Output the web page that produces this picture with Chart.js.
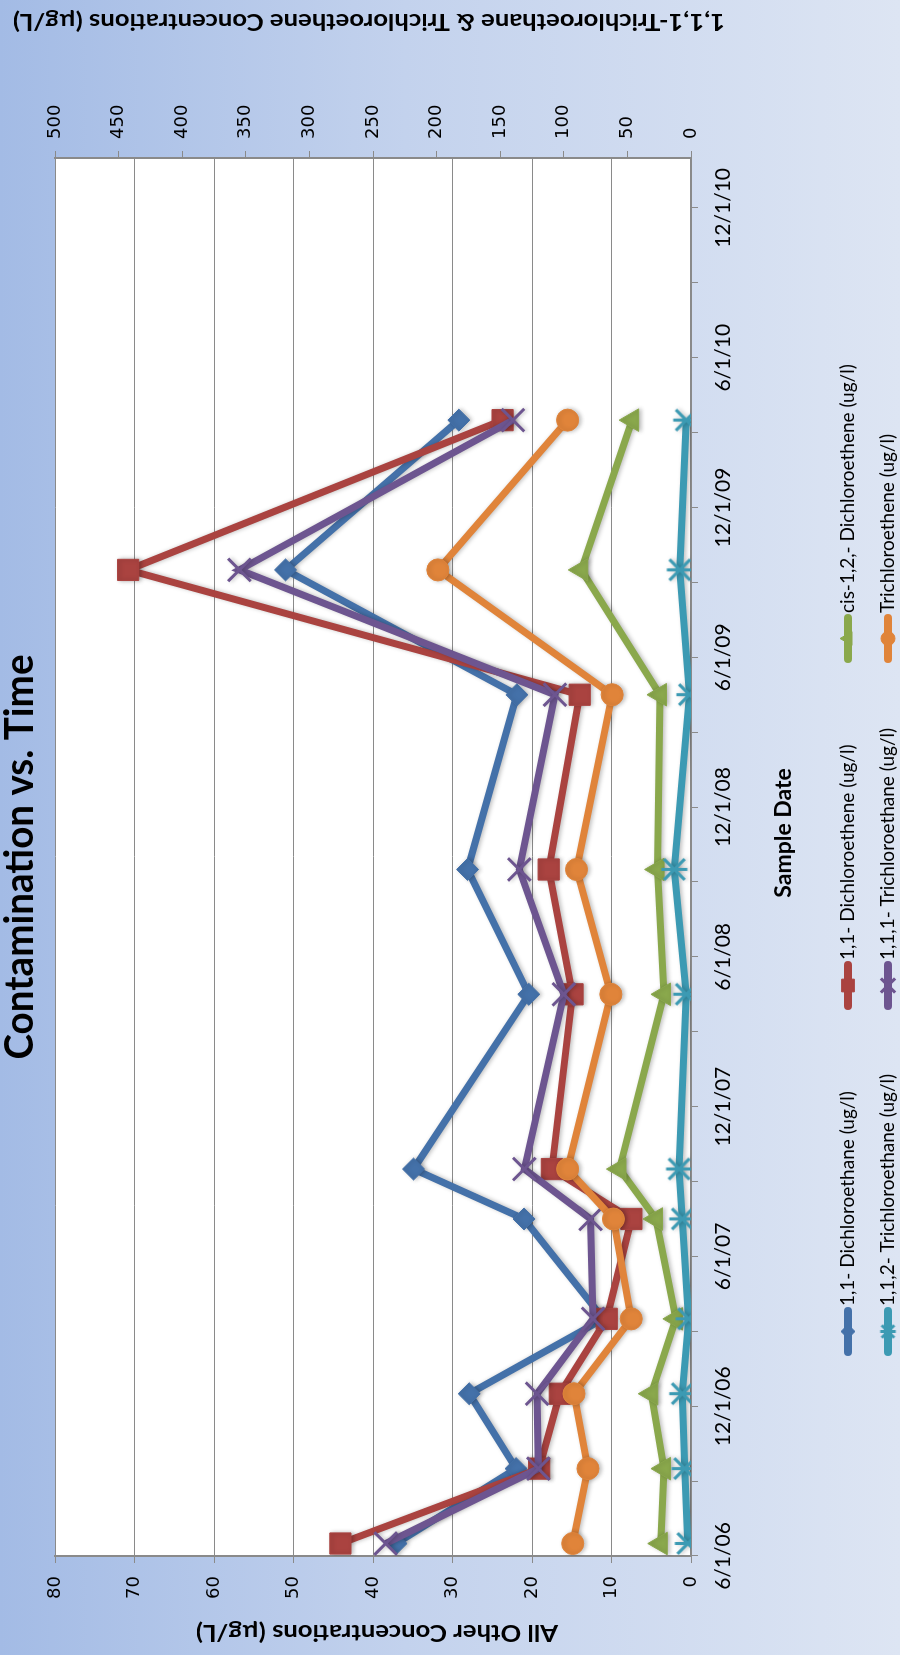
<!DOCTYPE html>
<html>
<head>
<meta charset="utf-8">
<title>Contamination vs. Time</title>
<script src="https://cdn.jsdelivr.net/npm/chart.js@4.4.1/dist/chart.umd.min.js"></script>
<style>
  html, body { margin: 0; padding: 0; width: 900px; height: 1655px; overflow: hidden; background: #dce4f2; }
  /* the chart is laid out landscape, then turned a quarter turn to stand on the page */
  #frame {
    position: absolute; left: 0; top: 0;
    width: 1655px; height: 900px;
    transform-origin: 0 0;
    transform: translateY(1655px) rotate(-90deg);
    background: linear-gradient(to bottom, #a3bbe5 0%, #c3d2ed 45%, #dde5f3 100%);
  }
  canvas { display: block; }
</style>
</head>
<body>
<div id="frame"><canvas id="chart" width="1655" height="900"></canvas></div>
<script>
// sampling dates (m/d/yy)
const sampleDates = ["6/16/06", "9/16/06", "12/16/06", "3/16/07", "7/16/07", "9/16/07",
                     "4/16/08", "9/16/08", "4/16/09", "9/16/09", "3/16/10"];

// date axis labels, one every 6 months from 6/1/06
const dateTicks = ["6/1/06", "12/1/06", "6/1/07", "12/1/07", "6/1/08", "12/1/08",
                   "6/1/09", "12/1/09", "6/1/10", "12/1/10"];

// ug/l, left axis
const dca    = [37.1, 22.0, 27.9, 11.0, 21.0, 34.9, 20.4, 28.1, 21.9, 51.0, 29.2];
const dce    = [44.1, 19.1, 16.5, 10.6,  7.5, 17.5, 14.9, 17.9, 14.0, 70.8, 23.7];
const cis12  = [ 3.8,  3.4,  5.0,  1.9,  4.4,  9.0,  3.4,  4.2,  3.9, 13.8,  7.4];
const tca112 = [ 0.4,  0.8,  1.1,  0.3,  1.1,  1.5,  0.6,  2.1,  0.2,  1.4,  0.6];
// ug/l, right axis
const tca111 = [240, 120, 121, 77, 79, 131, 100, 135, 107, 355, 140];
const tce    = [ 93,  81,  92, 47, 61,  97,  63,  90,  62, 199,  97];

const GRID = "#8a8a8a";
const TEXT = "#000";

// asterisk marker: an X with an upright bar through it
function asterisk(r, color, lw) {
  const size = Math.ceil(2 * r + lw + 2);
  const c = document.createElement("canvas");
  c.width = c.height = size;
  const g = c.getContext("2d");
  const m = size / 2, d = r * 0.8;
  g.strokeStyle = color;
  g.lineWidth = lw;
  g.beginPath();
  g.moveTo(m - d, m - d); g.lineTo(m + d, m + d);
  g.moveTo(m - d, m + d); g.lineTo(m + d, m - d);
  g.moveTo(m, m - r); g.lineTo(m, m + r);
  g.stroke();
  return c;
}

const series = [
  { label: "1,1- Dichloroethane (ug/l)",      values: dca,    color: "#4471a9", style: "rectRot",  radius: 11, axis: "yLeft" },
  { label: "1,1- Dichloroethene (ug/l)",      values: dce,    color: "#aa4340", style: "rect",     radius: 15, axis: "yLeft" },
  { label: "cis-1,2,- Dichloroethene (ug/l)", values: cis12,  color: "#8aa84c", style: "triangle", radius: 13, axis: "yLeft" },
  { label: "1,1,2- Trichloroethane (ug/l)",   values: tca112, color: "#3c9ab3", style: "asterisk", radius: 13, axis: "yLeft" },
  { label: "1,1,1- Trichloroethane (ug/l)",   values: tca111, color: "#6d5590", style: "crossRot", radius: 16, axis: "yRight" },
  { label: "Trichloroethene (ug/l)",          values: tce,    color: "#e0843a", style: "circle",   radius: 11, axis: "yRight" }
];

function pointStyleOf(s, scale) {
  return s.style === "asterisk" ? asterisk(s.radius * scale, s.color, 3) : s.style;
}

// months after 6/1/06
function monthsFromStart(s) {
  const [m, d, y] = s.split("/").map(Number);
  return (2000 + y - 2006) * 12 + (m - 6) + (d - 1) / 30;
}

const markerLine = (s) => (s.style === "crossRot") ? 3 : 1;

const datasets = series.map((s, i) => ({
  label: s.label,
  data: s.values.map((v, j) => ({ x: monthsFromStart(sampleDates[j]), y: v })),
  yAxisID: s.axis,
  borderColor: s.color,
  backgroundColor: s.color,
  borderWidth: 7,
  tension: 0,
  pointStyle: pointStyleOf(s, 1),
  pointRadius: s.radius,
  pointBorderWidth: markerLine(s),
  pointBackgroundColor: s.color,
  pointBorderColor: s.color,
  order: series.length - i   // later series drawn on top
}));

// text squeezed or stretched to a set width
function textTo(ctx, str, x, y, width, rot) {
  const w = ctx.measureText(str).width;
  ctx.save();
  ctx.translate(x, y);
  if (rot) ctx.rotate(rot);
  ctx.scale(width / w, 1);
  ctx.fillText(str, 0, 0);
  ctx.restore();
}

// plot background, titles, soft shadow under the series, and the grid legend
const decor = {
  id: "decor",
  beforeDraw(chart) {
    const { ctx, chartArea: a } = chart;
    ctx.save();
    ctx.fillStyle = "#fff";
    ctx.fillRect(a.left, a.top, a.right - a.left, a.bottom - a.top);
    ctx.restore();
  },
  beforeDatasetsDraw(chart) {
    const ctx = chart.ctx;
    ctx.save();
    ctx.shadowColor = "rgba(0,0,0,0.25)";
    ctx.shadowBlur = 4;
    ctx.shadowOffsetX = 0;
    ctx.shadowOffsetY = 2;
  },
  afterDatasetsDraw(chart) {
    chart.ctx.restore();
  },
  afterDraw(chart) {
    const { ctx, chartArea: a } = chart;
    const midY = (a.top + a.bottom) / 2;
    ctx.save();
    ctx.fillStyle = TEXT;
    ctx.textAlign = "center";

    // chart title
    ctx.font = "bold 41px Lato";
    ctx.textBaseline = "alphabetic";
    textTo(ctx, "Contamination vs. Time", (a.left + a.right) / 2, 33, 405, 0);

    // both value axis titles read bottom to top
    ctx.font = "bold 23px Lato";
    ctx.textBaseline = "middle";
    textTo(ctx, "All Other Concentrations (\u00b5g/L)", 23, midY + 4, 362, -Math.PI / 2);
    textTo(ctx, "1,1,1-Trichloroethane & Trichloroethene Concentrations (\u00b5g/L)", 1634, midY - 4, 712, -Math.PI / 2);

    // date axis title
    ctx.font = "bold 23px Lato";
    ctx.fillText("Sample Date", 822, 784);

    // legend: 3 columns x 2 rows, line + marker + text
    const colX = [299, 645, 992];
    const rowY = [848, 888];
    ctx.textAlign = "left";
    ctx.font = "19px Lato";
    series.forEach((s, i) => {
      const x0 = colX[i % 3], y = rowY[Math.floor(i / 3)];
      ctx.strokeStyle = s.color;
      ctx.fillStyle = s.color;
      ctx.lineWidth = 8;
      ctx.lineCap = "round";
      ctx.beginPath();
      ctx.moveTo(x0 + 4, y);
      ctx.lineTo(x0 + 45, y);
      ctx.stroke();
      ctx.lineCap = "butt";
      ctx.lineWidth = markerLine(s);
      Chart.helpers.drawPoint(ctx, {
        pointStyle: pointStyleOf(s, 0.6), radius: Math.round(s.radius * 0.6),
        borderWidth: markerLine(s), rotation: 0
      }, x0 + 24.5, y);
      ctx.fillStyle = TEXT;
      ctx.fillText(s.label, x0 + 50, y);
    });
    ctx.restore();
  }
};

new Chart(document.getElementById("chart"), {
  type: "line",
  data: { datasets },
  options: {
    responsive: false,
    animation: false,
    devicePixelRatio: 1,
    layout: { padding: { top: 55, left: 0, right: 0, bottom: 0 } },
    plugins: {
      legend: { display: false },
      title: { display: false },
      tooltip: { enabled: false }
    },
    scales: {
      x: {
        type: "linear",
        position: "bottom",
        min: 0,
        max: 56,
        afterFit: (s) => { s.height = 209; },
        grid: { drawOnChartArea: false, color: GRID, tickLength: 7 },
        border: { color: GRID, width: 2 },
        ticks: {
          stepSize: 3,
          includeBounds: false,
          autoSkip: false,
          maxRotation: 0,
          padding: 13,
          color: TEXT,
          font: { family: "Lato", size: 21 },
          callback: (v) => (v % 6 === 0 ? dateTicks[v / 6] : "")
        }
      },
      yLeft: {
        position: "left",
        min: 0,
        max: 80,
        afterFit: (s) => { s.width = 99; },
        grid: { color: GRID, tickLength: 7 },
        border: { color: GRID, width: 2 },
        ticks: { stepSize: 10, padding: 13, color: TEXT, font: { family: "DejaVu Sans", size: 18 } }
      },
      yRight: {
        position: "right",
        min: 0,
        max: 500,
        afterFit: (s) => { s.width = 158; },
        grid: { drawOnChartArea: false, color: GRID, tickLength: 7 },
        border: { color: GRID, width: 2 },
        ticks: { stepSize: 50, padding: 12, color: TEXT, font: { family: "DejaVu Sans", size: 18 } }
      }
    }
  },
  plugins: [decor]
});
</script>
</body>
</html>
